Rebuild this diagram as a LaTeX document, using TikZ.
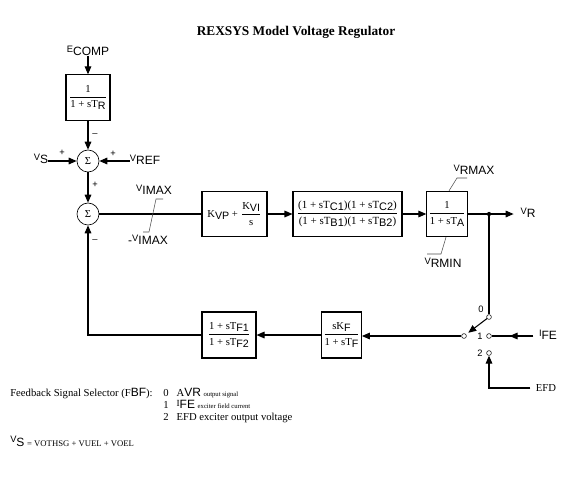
\documentclass[tikz,border=0pt]{standalone}
\usepackage{fontspec}
\usepackage{amsmath}
\setmainfont{Liberation Serif}
\setsansfont{Liberation Sans}
\usetikzlibrary{arrows.meta, calc, decorations.markings}
\newcommand{\sig}[2]{\raisebox{0.55ex}{\scriptsize #1}#2}
\newcommand{\lo}[1]{\raisebox{-0.4ex}{\sffamily #1}}
\newcommand{\tf}[2]{$\dfrac{\text{#1}}{\text{#2}}$}
\tikzset{
  blk/.style={draw, line width=0.8pt, inner sep=1pt, minimum height=34pt, font=\fontsize{8}{9}\selectfont},
  sumnode/.style={draw, circle, line width=0.5pt, minimum size=16.5pt, inner sep=0pt, font=\footnotesize},
  pin/.style={draw, circle, line width=0.4pt, minimum size=3.6pt, inner sep=0pt},
  wire/.style={line width=0.8pt},
  sig/.style={wire, -{Triangle[length=6pt, width=5pt]}},
  midarrow/.style={wire, postaction={decorate}, decoration={markings,
      mark=at position 0.62 with {\arrow{Triangle[length=6pt, width=5pt]}}}},
  lbl/.style={font=\sffamily\small, inner sep=0pt},
  sgn/.style={font=\sffamily\scriptsize, inner sep=0pt},
  lim/.style={line width=0.4pt, color=black!70},
  legend/.style={anchor=base west, inner sep=0pt, font=\fontsize{8}{10}\selectfont}
}

\begin{document}
\begin{tikzpicture}[x=0.75pt, y=-0.75pt]
\useasboundingbox (0,0) rectangle (584,479);

\node[font=\bfseries, inner sep=0pt] (title) at (296,32) {REXSYS Model Voltage Regulator};

% input side
\node[lbl] (ecomp) at (88,51) {\sig{E}{COMP}};
\node[blk, minimum width=33pt] (tr) at (88,97.5) {\tf{1}{1 + sT\lo{R}}};
\node[sumnode] (s1) at (88,161) {Σ};
\node[sumnode] (s2) at (88,214) {Σ};
\node[lbl] (vs) at (41,159) {\sig{V}{S}};
\node[lbl] (vref) at (145,160) {\sig{V}{REF}};

\draw[sig] (ecomp) -- (tr);
\draw[sig] (tr) -- (s1);
\draw[sig] (vs.east |- s1.west) -- (s1.west);
\draw[sig] (vref.west |- s1.east) -- (s1.east);
\draw[sig] (s1) -- (s2);

\node[sgn] at (95,135) {--};
\node[sgn] at (62,153) {+};
\node[sgn] at (113,154) {+};
\node[sgn] at (95,185) {+};
\node[sgn] at (95,241) {--};

% forward path
\node[blk, minimum width=48.75pt] (kvp) at (234.5,214) {K\lo{VP} + $\dfrac{\text{K\lo{VI}}}{\text{s}}$};
\node[blk, minimum width=81.75pt, inner sep=0pt, font=\fontsize{8.2}{9}\selectfont] (ll) at (347.5,214)
  {$\dfrac{\text{(1 + sT\lo{C1})(1 + sT\lo{C2})}}{\text{(1 + sT\lo{B1})(1 + sT\lo{B2})}}$};
\node[blk, minimum width=30pt] (ta) at (447,214) {\tf{1}{1 + sT\lo{A}}};
\node[lbl] (vr) at (528,213) {\sig{V}{R}};
\coordinate (tap) at (489,214);

\draw[wire] (s2) -- (kvp);
\draw[sig] (kvp) -- (ll);
\draw[sig] (ll) -- (ta);
\draw[sig, shorten >=5pt] (ta.east) -- (vr.west |- ta.east);
\fill (tap) circle (1.6pt);

% limits
\draw[lim] (143,232) -- (149,232) -- (156,199) -- (163,199);
\node[lbl] (vimax) at (154,190) {\sig{V}{IMAX}};
\node[lbl] (vimin) at (148,240) {-\sig{V}{IMAX}};
\draw[lim] (ta.north) ++(2,0) -- (457,178) -- (467,178);
\draw[lim] (ta.south) ++(-1,0) -- (441,254) -- (427,254);
\node[lbl] (vrmax) at (474,170) {\sig{V}{RMAX}};
\node[lbl] (vrmin) at (443,263) {\sig{V}{RMIN}};

% selector switch
\node[pin] (sw0) at (489,317) {};
\node[pin] (sw1) at (489,336) {};
\node[pin] (sw2) at (489,353) {};
\node[pin] (pole) at (464,336) {};
\node[sgn] at (481,309) {0};
\node[sgn] at (480,336) {1};
\node[sgn] at (480,353) {2};
\node[lbl] (ife) at (548,335) {\sig{I}{FE}};
\node[font=\footnotesize, inner sep=0pt] (efd) at (546,388) {EFD};

\draw[wire] (tap) -- (sw0);
\draw[sig, shorten >=2pt] (sw0) -- (pole);
\draw[midarrow, shorten <=4pt] (ife.west |- sw1.east) -- (sw1.east);
\draw[sig, shorten <=4pt] (efd.west) -| (sw2.south);

% feedback path
\node[blk, minimum width=40.5pt, minimum height=34.5pt] (tf) at (229,335)
  {\tf{1 + sT\lo{F1}}{1 + sT\lo{F2}}};
\node[blk, minimum width=29.25pt, minimum height=34.5pt] (kf) at (341.5,335)
  {\tf{sK\lo{F}}{1 + sT\lo{F}}};

\draw[sig] (pole) -- (kf.east |- pole);
\draw[sig] (kf) -- (tf);
\draw[sig] (tf.west) -| (s2.south);

% legend
\node[legend] (fbf) at (10,396) {Feedback Signal Selector (F{\sffamily\small BF}):};
\node[legend] (sel0) at (163,396) {0\hspace{6pt}A{\sffamily\small VR} {\tiny output signal}};
\node[legend] (sel1) at (163,408)
  {1\hspace{6pt}{\raisebox{0.4ex}{\scriptsize I}}{\sffamily\small FE} {\tiny exciter field current}};
\node[legend] (sel2) at (163,420) {2\hspace{6pt}EFD exciter output voltage};
\node[legend] (vsdef) at (10,446)
  {{\sffamily\small\sig{V}{S}} {\fontsize{6.5}{8}\selectfont = VOTHSG + VUEL + VOEL}};

\end{tikzpicture}
\end{document}
